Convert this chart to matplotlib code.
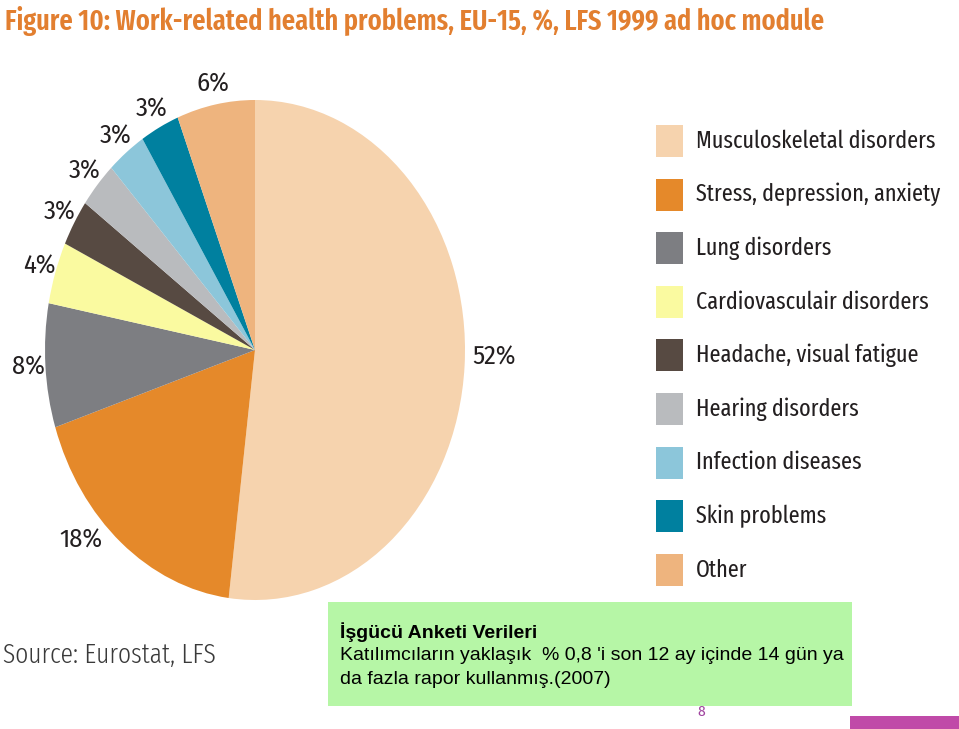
import matplotlib.pyplot as plt
from matplotlib.patches import Rectangle

categories = ['Musculoskeletal disorders', 'Stress, depression, anxiety', 'Lung disorders',
              'Cardiovasculair disorders', 'Headache, visual fatigue', 'Hearing disorders',
              'Infection diseases', 'Skin problems', 'Other']
shares = [52, 18, 8, 4, 3, 3, 3, 3, 6]
pct_labels = ['52%', '18%', '8%', '4%', '3%', '3%', '3%', '3%', '6%']
colors = ['#F6D3AE', '#E5892A', '#7D7E82', '#FAFAA0', '#574A42',
          '#B9BBBE', '#8CC6DA', '#00809F', '#EEB47E']

COND = 'Fira Sans Condensed'
XCOND = 'Fira Sans Extra Condensed'
INK = '#231F20'

fig = plt.figure(figsize=(9.59, 7.29), dpi=100)
W, H = 959, 729


def fx(x):
    return x / W


def fy(y):
    return 1 - y / H


# pie, stretched vertically like the original
ax = fig.add_axes([fx(45), fy(600), 420 / W, 500 / H])
wedges, texts = ax.pie(shares, colors=colors, startangle=90, counterclock=False,
                       labels=pct_labels, labeldistance=1.08,
                       textprops=dict(family=COND, fontsize=19, color=INK),
                       wedgeprops=dict(linewidth=0))
for t in texts:
    t.set_horizontalalignment('center')
# the two big labels sit a bit off the radial line in the original
texts[0].set_position((1.14, -0.03))
texts[1].set_position((-0.83, -0.76))
ax.set_aspect('auto')
ax.set_xlim(-1, 1)
ax.set_ylim(-1, 1)

fig.text(fx(5), fy(21), 'Figure 10: Work-related health problems, EU-15, %, LFS 1999 ad hoc module',
         family=XCOND, fontweight=600, fontsize=20.6, color='#E27F30', va='center', ha='left')

# legend drawn as squares + labels
for i, (w, name) in enumerate(zip(wedges, categories)):
    top = 125 + i * 53.6
    fig.patches.append(Rectangle((fx(656), fy(top + 32)), 27 / W, 32 / H,
                                 transform=fig.transFigure,
                                 facecolor=w.get_facecolor(), edgecolor='none'))
    fig.text(fx(696), fy(top + 16), name, family=XCOND, fontsize=17.4, color=INK,
             va='center', ha='left')

fig.text(fx(3), fy(655), 'Source: Eurostat, LFS', family=XCOND, fontweight=300,
         fontsize=20, color='#3A3A3A', va='center', ha='left')

# green note box
fig.patches.append(Rectangle((fx(328), fy(706)), (852 - 328) / W, (706 - 602) / H,
                             transform=fig.transFigure, facecolor='#B6F6A6', edgecolor='none'))
fig.text(fx(340), fy(632), 'İşgücü Anketi Verileri', family='Liberation Sans',
         fontweight='bold', fontsize=14, va='center', ha='left')
fig.text(fx(340), fy(656), "Katılımcıların yaklaşık  % 0,8 'i son 12 ay içinde 14 gün ya",
         family='Liberation Sans', fontsize=14, va='center', ha='left')
fig.text(fx(340), fy(679), 'da fazla rapor kullanmış.(2007)',
         family='Liberation Sans', fontsize=14, va='center', ha='left')

fig.text(fx(701), fy(712), '8', family=COND, fontsize=11, color='#A0459F',
         va='center', ha='center')
fig.patches.append(Rectangle((fx(850), 0), (959 - 850) / W, 13 / H,
                             transform=fig.transFigure, facecolor='#C04AA8', edgecolor='none'))

fig.savefig('out.png', dpi=100)
